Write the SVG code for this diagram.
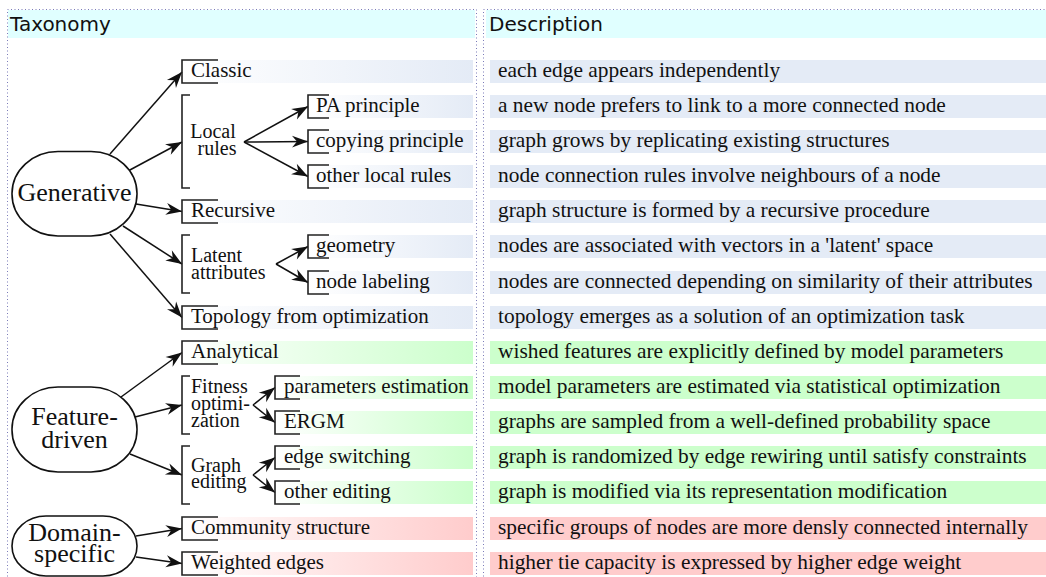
<svg xmlns="http://www.w3.org/2000/svg" width="1046" height="577" viewBox="0 0 1046 577">
<style>
.hdr{font-family:"DejaVu Sans",sans-serif;font-size:20px;fill:#111}
.t{font-family:"Liberation Serif","Times New Roman",serif;font-size:21px;fill:#111}
.gl{font-family:"Liberation Serif","Times New Roman",serif;font-size:20px;fill:#111}
.d{font-family:"Liberation Serif","Times New Roman",serif;font-size:21.4px;fill:#111}
.big{font-family:"Liberation Serif","Times New Roman",serif;font-size:26px;fill:#111;text-anchor:middle}
.br{fill:none;stroke:#222;stroke-width:1.6}
.el{fill:#fff;stroke:#111;stroke-width:1.6}
.dot{fill:none;stroke:#7a7ab8;stroke-width:1;stroke-dasharray:1 2.5}
.ar{stroke:#111;stroke-width:1.5;fill:none;marker-end:url(#ah)}
.band{fill:#e0ffff}
.b{fill:#e4ebf6}.g{fill:#ccffcc}.r{fill:#ffcccc}
</style>
<defs>
<linearGradient id="gb" x1="0" y1="0" x2="1" y2="0"><stop offset="0" stop-color="#ffffff"/><stop offset="1" stop-color="#e4ebf6"/></linearGradient>
<linearGradient id="gg" x1="0" y1="0" x2="1" y2="0"><stop offset="0" stop-color="#ffffff"/><stop offset="1" stop-color="#ccffcc"/></linearGradient>
<linearGradient id="gr" x1="0" y1="0" x2="1" y2="0"><stop offset="0" stop-color="#ffffff"/><stop offset="1" stop-color="#ffcccc"/></linearGradient>
<marker id="ah" viewBox="-17 -7 18 14" refX="0" refY="0" markerWidth="18" markerHeight="14" markerUnits="userSpaceOnUse" orient="auto">
<path d="M-16,-6 L0,0 L-16,6 L-11,0 Z" fill="#111"/>
</marker>
</defs>

<g id="panels">
<rect class="band" x="8" y="10" width="467" height="28"/>
<rect class="band" x="486" y="10" width="560" height="28"/>
<path class="dot" d="M7.5,580 V9.5 H476.5 V580"/>
<path class="dot" d="M483.5,580 V9.5 H1046"/>
<text class="hdr" x="10" y="31">Taxonomy</text>
<text class="hdr" x="489" y="31">Description</text>
</g>

<g id="bars">
<rect x="182" y="60" width="291" height="23" fill="url(#gb)"/>
<rect x="308" y="95" width="165" height="23" fill="url(#gb)"/>
<rect x="308" y="130" width="165" height="23" fill="url(#gb)"/>
<rect x="308" y="165" width="165" height="23" fill="url(#gb)"/>
<rect x="182" y="200" width="291" height="23" fill="url(#gb)"/>
<rect x="308" y="235" width="165" height="23" fill="url(#gb)"/>
<rect x="308" y="271" width="165" height="23" fill="url(#gb)"/>
<rect x="182" y="306" width="291" height="23" fill="url(#gb)"/>
<rect x="182" y="341" width="291" height="23" fill="url(#gg)"/>
<rect x="275" y="376" width="198" height="23" fill="url(#gg)"/>
<rect x="275" y="411" width="198" height="23" fill="url(#gg)"/>
<rect x="275" y="446" width="198" height="23" fill="url(#gg)"/>
<rect x="275" y="481" width="198" height="23" fill="url(#gg)"/>
<rect x="182" y="517" width="291" height="23" fill="url(#gr)"/>
<rect x="182" y="552" width="291" height="23" fill="url(#gr)"/>
</g>

<g id="connectors">
<line class="ar" x1="110" y1="154" x2="182" y2="72"/>
<line class="ar" x1="128" y1="171" x2="182" y2="142"/>
<line class="ar" x1="136" y1="204" x2="182" y2="211.5"/>
<line class="ar" x1="123" y1="226" x2="182" y2="264"/>
<line class="ar" x1="110" y1="234" x2="182" y2="317.5"/>
<line class="ar" x1="244" y1="142" x2="308" y2="106.5"/>
<line class="ar" x1="244" y1="142" x2="308" y2="141.5"/>
<line class="ar" x1="244" y1="142" x2="308" y2="176.5"/>
<line class="ar" x1="276" y1="264" x2="308" y2="246.5"/>
<line class="ar" x1="276" y1="264" x2="308" y2="282.5"/>
<line class="ar" x1="121" y1="397" x2="182" y2="352.5"/>
<line class="ar" x1="135" y1="417" x2="182" y2="405"/>
<line class="ar" x1="130" y1="454" x2="182" y2="475"/>
<line class="ar" x1="253" y1="405" x2="275" y2="387.5"/>
<line class="ar" x1="253" y1="405" x2="275" y2="422.5"/>
<line class="ar" x1="253" y1="475" x2="275" y2="457.5"/>
<line class="ar" x1="253" y1="475" x2="275" y2="492.5"/>
<line class="ar" x1="136" y1="536" x2="182" y2="528.5"/>
<line class="ar" x1="136" y1="557" x2="182" y2="563.5"/>
</g>

<g id="generative">
<rect class="el" x="12" y="151.5" width="125" height="84.5" rx="46" ry="42"/>
<text class="big" x="74.5" y="201">Generative</text>
</g>
<g id="feature-driven">
<rect class="el" x="12" y="387" width="125" height="85" rx="46" ry="42"/>
<text class="big" x="74.5" y="425">Feature-</text>
<text class="big" x="74.5" y="448">driven</text>
</g>
<g id="domain-specific">
<rect class="el" x="12" y="516" width="125" height="60" rx="34" ry="30"/>
<text class="big" x="74.5" y="541">Domain-</text>
<text class="big" x="74.5" y="562">specific</text>
</g>

<g id="classic"><path class="br" d="M218,60 H182 V83 H218"/><text class="t" x="191" y="77">Classic</text></g>
<g id="local-rules"><path class="br" d="M190,95 H182 V188 H190"/><text class="gl" x="213" y="138" text-anchor="middle">Local</text><text class="gl" x="217" y="155" text-anchor="middle">rules</text></g>
<g id="pa-principle"><path class="br" d="M329,95 H308 V118 H329"/><text class="t" x="316" y="112">PA principle</text></g>
<g id="copying-principle"><path class="br" d="M329,130 H308 V153 H329"/><text class="t" x="316" y="147">copying principle</text></g>
<g id="other-local-rules"><path class="br" d="M329,165 H308 V188 H329"/><text class="t" x="316" y="182">other local rules</text></g>
<g id="recursive"><path class="br" d="M218,200 H182 V223 H218"/><text class="t" x="191" y="217">Recursive</text></g>
<g id="latent-attributes"><path class="br" d="M190,235 H182 V293 H190"/><text class="gl" x="191" y="262">Latent</text><text class="gl" x="191" y="279">attributes</text></g>
<g id="geometry"><path class="br" d="M329,235 H308 V258 H329"/><text class="t" x="316" y="252">geometry</text></g>
<g id="node-labeling"><path class="br" d="M329,271 H308 V294 H329"/><text class="t" x="316" y="288">node labeling</text></g>
<g id="topology"><path class="br" d="M218,306 H182 V329 H218"/><text class="t" x="191" y="323">Topology from optimization</text></g>
<g id="analytical"><path class="br" d="M218,341 H182 V364 H218"/><text class="t" x="191" y="358">Analytical</text></g>
<g id="fitness-optimization"><path class="br" d="M190,376 H182 V434 H190"/><text class="gl" x="191" y="393">Fitness</text><text class="gl" x="191" y="410">optimi-</text><text class="gl" x="191" y="427">zation</text></g>
<g id="parameters-estimation"><path class="br" d="M300,376 H275 V399 H300"/><text class="t" x="284" y="393">parameters estimation</text></g>
<g id="ergm"><path class="br" d="M300,411 H275 V434 H300"/><text class="t" x="284" y="428">ERGM</text></g>
<g id="graph-editing"><path class="br" d="M190,446 H182 V504 H190"/><text class="gl" x="191" y="472">Graph</text><text class="gl" x="191" y="488">editing</text></g>
<g id="edge-switching"><path class="br" d="M300,446 H275 V469 H300"/><text class="t" x="284" y="463">edge switching</text></g>
<g id="other-editing"><path class="br" d="M300,481 H275 V504 H300"/><text class="t" x="284" y="498">other editing</text></g>
<g id="community-structure"><path class="br" d="M218,517 H182 V540 H218"/><text class="t" x="191" y="534">Community structure</text></g>
<g id="weighted-edges"><path class="br" d="M218,552 H182 V575 H218"/><text class="t" x="191" y="569">Weighted edges</text></g>

<g id="descriptions">
<rect class="b" x="490" y="60" width="556" height="23"/><text class="d" x="498" y="77">each edge appears independently</text>
<rect class="b" x="490" y="95" width="556" height="23"/><text class="d" x="498" y="112">a new node prefers to link to a more connected node</text>
<rect class="b" x="490" y="130" width="556" height="23"/><text class="d" x="498" y="147">graph grows by replicating existing structures</text>
<rect class="b" x="490" y="165" width="556" height="23"/><text class="d" x="498" y="182">node connection rules involve neighbours of a node</text>
<rect class="b" x="490" y="200" width="556" height="23"/><text class="d" x="498" y="217">graph structure is formed by a recursive procedure</text>
<rect class="b" x="490" y="235" width="556" height="23"/><text class="d" x="498" y="252">nodes are associated with vectors in a 'latent' space</text>
<rect class="b" x="490" y="271" width="556" height="23"/><text class="d" x="498" y="288">nodes are connected depending on similarity of their attributes</text>
<rect class="b" x="490" y="306" width="556" height="23"/><text class="d" x="498" y="323">topology emerges as a solution of an optimization task</text>
<rect class="g" x="490" y="341" width="556" height="23"/><text class="d" x="498" y="358">wished features are explicitly defined by model parameters</text>
<rect class="g" x="490" y="376" width="556" height="23"/><text class="d" x="498" y="393">model parameters are estimated via statistical optimization</text>
<rect class="g" x="490" y="411" width="556" height="23"/><text class="d" x="498" y="428">graphs are sampled from a well-defined probability space</text>
<rect class="g" x="490" y="446" width="556" height="23"/><text class="d" x="498" y="463">graph is randomized by edge rewiring until satisfy constraints</text>
<rect class="g" x="490" y="481" width="556" height="23"/><text class="d" x="498" y="498">graph is modified via its representation modification</text>
<rect class="r" x="490" y="517" width="556" height="23"/><text class="d" x="498" y="534">specific groups of nodes are more densly connected internally</text>
<rect class="r" x="490" y="552" width="556" height="23"/><text class="d" x="498" y="569">higher tie capacity is expressed by higher edge weight</text>
</g>
</svg>
